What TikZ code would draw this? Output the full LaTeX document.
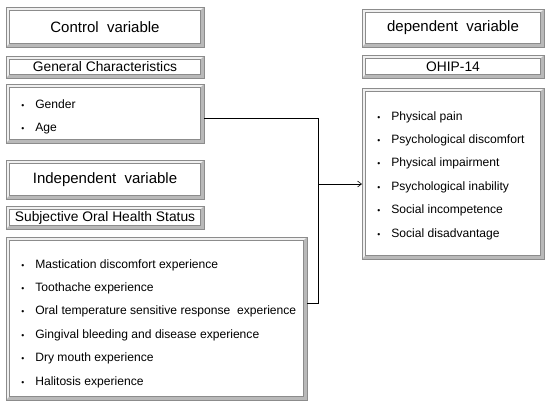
\documentclass[tikz,border=0pt]{standalone}
\usepackage{fontspec}
\setmainfont{Liberation Sans}
\usetikzlibrary{arrows.meta}
\newcommand\itm{\makebox[14pt][l]{\fontsize{8.5}{8.5}\selectfont\textbullet}}
\begin{document}
\begin{tikzpicture}[x=1pt, y=1pt,
every path/.style = {line width=0.6pt},
     frame/.style = {draw=gray!90, fill=white, outer sep=0pt, inner sep=0pt,
                     path picture={
                       \fill[gray!12] (path picture bounding box.north west)
                         -- (path picture bounding box.north east)
                         -- ([shift={(-3.5,-3.5)}]path picture bounding box.north east)
                         -- ([shift={(3.5,-3.5)}]path picture bounding box.north west)
                         -- ([shift={(3.5,3.5)}]path picture bounding box.south west)
                         -- (path picture bounding box.south west) -- cycle;
                       \fill[gray!55] (path picture bounding box.south east)
                         -- (path picture bounding box.north east)
                         -- ([shift={(-3.5,-3.5)}]path picture bounding box.north east)
                         -- ([shift={(-3.5,3.5)}]path picture bounding box.south east)
                         -- ([shift={(3.5,3.5)}]path picture bounding box.south west)
                         -- (path picture bounding box.south west) -- cycle;
                       \draw[gray!90] ([shift={(3.5,-3.5)}]path picture bounding box.north west)
                         rectangle ([shift={(-3.5,3.5)}]path picture bounding box.south east);
                     }},
     title/.style = {frame, font=\fontsize{15}{18}\selectfont},
       sub/.style = {frame, font=\fontsize{13.8}{16}\selectfont},
     items/.style = {font=\fontsize{12.1}{23.4}\selectfont, align=left,
                     inner sep=0pt, anchor=north west}
                    ]
\useasboundingbox (0,0) rectangle (545,-402);

% left column
\node[title, minimum width=198, minimum height=40] (ctrl) at (105,-27) {Control\ \ variable};
\node[sub, minimum width=198, minimum height=22] (gen) at (105,-67) {General Characteristics};
\node[frame, minimum width=198, minimum height=59] (genlist) at (105,-113.5) {};
\node[items] (genitems) at ([shift={(15,-15)}]genlist.north west)
    {\itm Gender\\ \itm Age};
\node[title, minimum width=198, minimum height=39] (indep) at (105,-179.5) {Independent\ \ variable};
\node[sub, minimum width=198, minimum height=23] (subj) at (105,-217.5) {Subjective Oral Health Status};
\node[frame, minimum width=301, minimum height=163] (subjlist) at (156.5,-318.5) {};
\node[items] (subjitems) at ([shift={(15,-22)}]subjlist.north west)
    {\itm Mastication discomfort experience\\
     \itm Toothache experience\\
     \itm Oral temperature sensitive response\ \ experience\\
     \itm Gingival bleeding and disease experience\\
     \itm Dry mouth experience\\
     \itm Halitosis experience};

% right column
\node[title, minimum width=182, minimum height=38] (dep) at (453,-28) {dependent\ \ variable};
\node[sub, minimum width=182, minimum height=23] (ohip) at (453,-66.5) {OHIP-14};
\node[frame, minimum width=182, minimum height=171] (deplist) at (453,-173.5) {};
\node[items] (depitems) at ([shift={(15,-23)}]deplist.north west)
    {\itm Physical pain\\
     \itm Psychological discomfort\\
     \itm Physical impairment\\
     \itm Psychological inability\\
     \itm Social incompetence\\
     \itm Social disadvantage};

% connectors
\coordinate (j) at (318,-184);
\draw ([yshift=-4.5]genlist.east) -| (j);
\draw ([yshift=15.5]subjlist.east) -| (j);
\draw[-{Straight Barb[length=4pt,width=6pt]}] (j) -- (j -| deplist.west);
\end{tikzpicture}
\end{document}
